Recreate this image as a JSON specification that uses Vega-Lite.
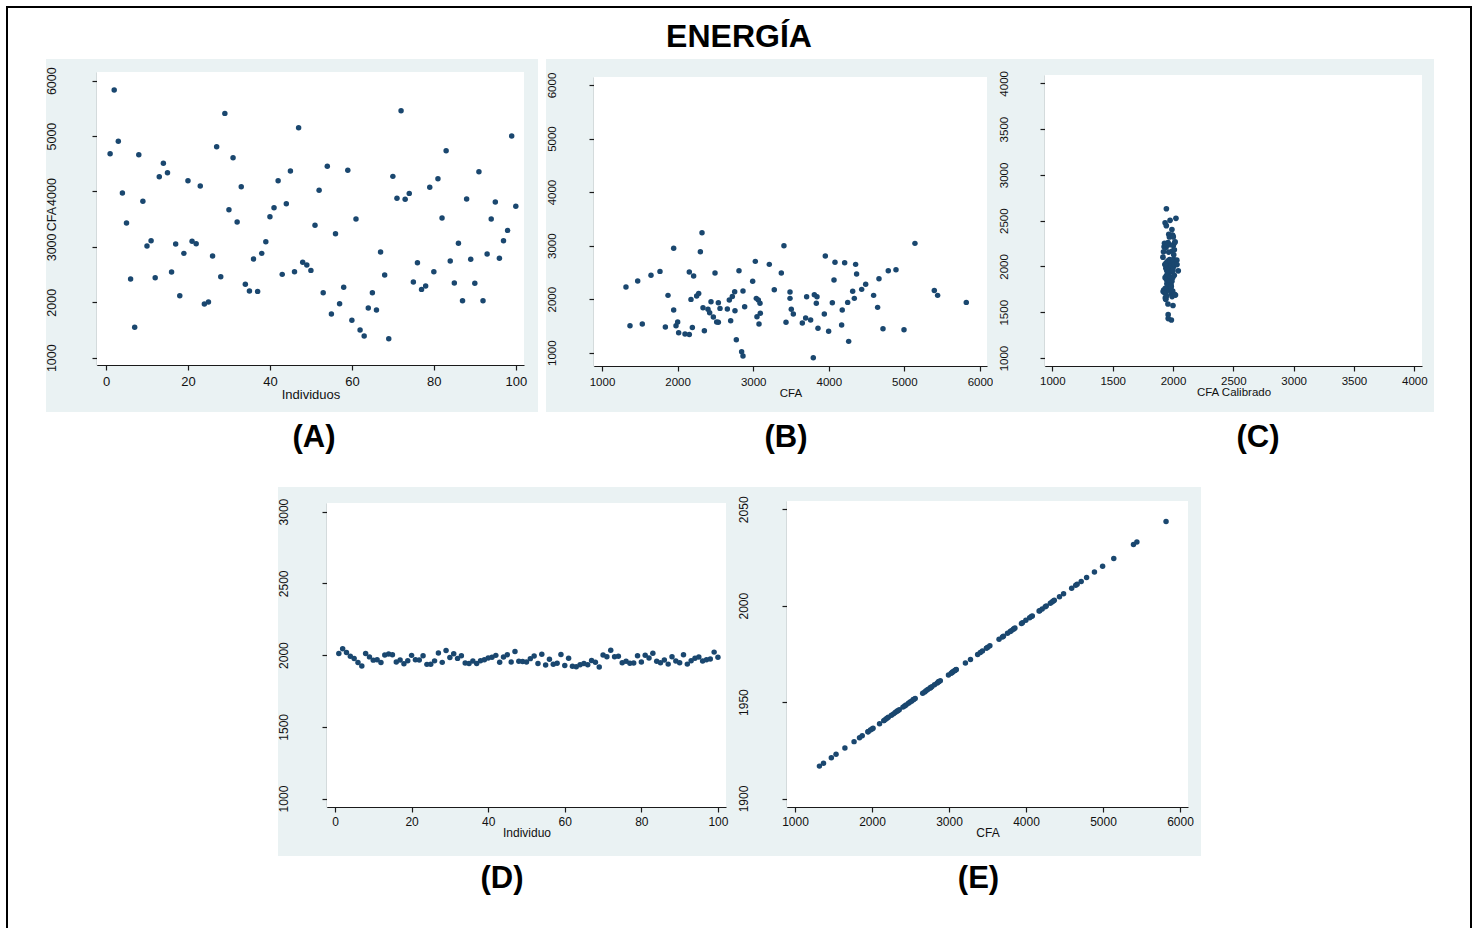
{
  "$schema": "https://vega.github.io/schema/vega-lite/v6.json",
  "background": "white",
  "padding": {"left": 6, "top": 6, "right": 0, "bottom": 0},
  "config": {
    "view": {"stroke": null},
    "font": "Liberation Sans",
    "numberFormat": "d",
    "title": {"font": "Liberation Sans", "fontWeight": "bold", "color": "#000", "baseline": "alphabetic"},
    "axis": {
      "domainColor": "#1a1a1a", "tickColor": "#1a1a1a", "domainWidth": 1.2, "tickWidth": 1.2, "tickSize": 5,
      "labelColor": "#111", "titleColor": "#111", "labelFont": "Liberation Sans", "titleFont": "Liberation Sans",
      "titleFontWeight": "normal", "gridColor": "#eaf2f3", "gridWidth": 1.3, "zindex": 1,
      "labelFlush": false, "labelOverlap": false
    },
    "axisX": {"grid": false, "labelAngle": 0, "titlePadding": 0},
    "axisY": {"grid": true, "labelAngle": -90, "labelAlign": "center", "labelBaseline": "alphabetic"}
  },
  "datasets": {
    "ind": [
      {"i":1,"cfa":4682,"cal":2011.6},{"i":2,"cfa":5832,"cal":2044.0},{"i":3,"cfa":4905,"cal":2017.9},{"i":4,"cfa":3972,"cal":1991.6},{"i":5,"cfa":3431,"cal":1976.4},
      {"i":6,"cfa":2420,"cal":1947.9},{"i":7,"cfa":1548,"cal":1923.3},{"i":8,"cfa":4664,"cal":2011.1},{"i":9,"cfa":3822,"cal":1987.4},{"i":10,"cfa":3016,"cal":1964.7},
      {"i":11,"cfa":3112,"cal":1967.4},{"i":12,"cfa":2444,"cal":1948.6},{"i":13,"cfa":4267,"cal":1999.9},{"i":14,"cfa":4508,"cal":2006.7},{"i":15,"cfa":4339,"cal":2002.0},
      {"i":16,"cfa":2546,"cal":1951.5},{"i":17,"cfa":3052,"cal":1965.7},{"i":18,"cfa":2119,"cal":1939.4},{"i":19,"cfa":2883,"cal":1961.0},{"i":20,"cfa":4195,"cal":1997.9},
      {"i":21,"cfa":3100,"cal":1967.1},{"i":22,"cfa":3058,"cal":1965.9},{"i":23,"cfa":4099,"cal":1995.2},{"i":24,"cfa":1969,"cal":1935.2},{"i":25,"cfa":2005,"cal":1936.2},
      {"i":26,"cfa":2835,"cal":1959.6},{"i":27,"cfa":4809,"cal":2015.2},{"i":28,"cfa":2462,"cal":1949.1},{"i":29,"cfa":5410,"cal":2032.1},{"i":30,"cfa":3672,"cal":1983.2},
      {"i":31,"cfa":4610,"cal":2009.6},{"i":32,"cfa":3449,"cal":1976.9},{"i":33,"cfa":4087,"cal":1994.9},{"i":34,"cfa":2324,"cal":1945.2},{"i":35,"cfa":2203,"cal":1941.8},
      {"i":36,"cfa":2781,"cal":1958.1},{"i":37,"cfa":2197,"cal":1941.6},{"i":38,"cfa":2883,"cal":1961.0},{"i":39,"cfa":3094,"cal":1966.9},{"i":40,"cfa":3545,"cal":1979.6},
      {"i":41,"cfa":3708,"cal":1984.2},{"i":42,"cfa":4195,"cal":1997.9},{"i":43,"cfa":2504,"cal":1950.3},{"i":44,"cfa":3780,"cal":1986.2},{"i":45,"cfa":4370,"cal":2002.8},
      {"i":46,"cfa":2552,"cal":1951.6},{"i":47,"cfa":5152,"cal":2024.9},{"i":48,"cfa":2721,"cal":1956.4},{"i":49,"cfa":2673,"cal":1955.0},{"i":50,"cfa":2576,"cal":1952.3},
      {"i":51,"cfa":3389,"cal":1975.2},{"i":52,"cfa":4021,"cal":1993.0},{"i":53,"cfa":2173,"cal":1941.0},{"i":54,"cfa":4454,"cal":2005.2},{"i":55,"cfa":1788,"cal":1930.1},
      {"i":56,"cfa":3238,"cal":1971.0},{"i":57,"cfa":1975,"cal":1935.4},{"i":58,"cfa":2270,"cal":1943.7},{"i":59,"cfa":4382,"cal":2003.2},{"i":60,"cfa":1674,"cal":1926.9},
      {"i":61,"cfa":3503,"cal":1978.4},{"i":62,"cfa":1499,"cal":1922.0},{"i":63,"cfa":1391,"cal":1918.9},{"i":64,"cfa":1897,"cal":1933.2},{"i":65,"cfa":2173,"cal":1941.0},
      {"i":66,"cfa":1860,"cal":1932.1},{"i":67,"cfa":2907,"cal":1961.6},{"i":68,"cfa":2492,"cal":1949.9},{"i":69,"cfa":1343,"cal":1917.6},{"i":70,"cfa":4273,"cal":2000.1},
      {"i":71,"cfa":3876,"cal":1988.9},{"i":72,"cfa":5459,"cal":2033.5},{"i":73,"cfa":3858,"cal":1988.4},{"i":74,"cfa":3966,"cal":1991.5},{"i":75,"cfa":2366,"cal":1946.4},
      {"i":76,"cfa":2715,"cal":1956.2},{"i":77,"cfa":2233,"cal":1942.6},{"i":78,"cfa":2294,"cal":1944.4},{"i":79,"cfa":4075,"cal":1994.5},{"i":80,"cfa":2552,"cal":1951.6},
      {"i":81,"cfa":4231,"cal":1998.9},{"i":82,"cfa":3521,"cal":1978.9},{"i":83,"cfa":4737,"cal":2013.2},{"i":84,"cfa":2745,"cal":1957.1},{"i":85,"cfa":2348,"cal":1945.9},
      {"i":86,"cfa":3064,"cal":1966.1},{"i":87,"cfa":2029,"cal":1936.9},{"i":88,"cfa":3864,"cal":1988.6},{"i":89,"cfa":2775,"cal":1957.9},{"i":90,"cfa":2342,"cal":1945.7},
      {"i":91,"cfa":4357,"cal":2002.5},{"i":92,"cfa":2029,"cal":1936.9},{"i":93,"cfa":2871,"cal":1960.6},{"i":94,"cfa":3503,"cal":1978.4},{"i":95,"cfa":3810,"cal":1987.1},
      {"i":96,"cfa":2793,"cal":1958.4},{"i":97,"cfa":3112,"cal":1967.4},{"i":98,"cfa":3298,"cal":1972.6},{"i":99,"cfa":5001,"cal":2020.6},{"i":100,"cfa":3732,"cal":1984.9}
    ],
    "pts": [
      {"cfa":1317,"y":2227,"cal":1916.8,"yc":2101.8},{"cfa":1370,"y":1504,"cal":1918.3,"yc":1725.6},{"cfa":1472,"y":2339,"cal":1921.2,"yc":2160.1},{"cfa":1533,"y":1536,"cal":1922.9,"yc":1742.3},
      {"cfa":1648,"y":2445,"cal":1926.2,"yc":2215.2},{"cfa":1767,"y":2519,"cal":1929.5,"yc":2253.7},{"cfa":1838,"y":1479,"cal":1931.5,"yc":1712.6},{"cfa":1873,"y":2071,"cal":1932.5,"yc":2020.6},
      {"cfa":1948,"y":2949,"cal":1934.6,"yc":2477.5},{"cfa":1948,"y":1797,"cal":1934.6,"yc":1878.1},{"cfa":1979,"y":1504,"cal":1935.5,"yc":1725.6},{"cfa":2001,"y":1573,"cal":1936.1,"yc":1761.5},
      {"cfa":2014,"y":1374,"cal":1936.5,"yc":1658.0},{"cfa":2098,"y":1349,"cal":1938.8,"yc":1645.0},{"cfa":2155,"y":1342,"cal":1940.4,"yc":1641.3},{"cfa":2155,"y":2507,"cal":1940.4,"yc":2247.5},
      {"cfa":2177,"y":1996,"cal":1941.1,"yc":1981.6},{"cfa":2195,"y":1473,"cal":1941.6,"yc":1709.5},{"cfa":2212,"y":2432,"cal":1942.1,"yc":2208.5},{"cfa":2252,"y":2059,"cal":1943.2,"yc":2014.4},
      {"cfa":2279,"y":2108,"cal":1943.9,"yc":2039.9},{"cfa":2301,"y":2887,"cal":1944.6,"yc":2445.2},{"cfa":2323,"y":3242,"cal":1945.2,"yc":2629.9},{"cfa":2336,"y":1841,"cal":1945.5,"yc":1901.0},
      {"cfa":2354,"y":1411,"cal":1946.1,"yc":1677.2},{"cfa":2402,"y":1810,"cal":1947.4,"yc":1884.8},{"cfa":2424,"y":1747,"cal":1948.0,"yc":1852.1},{"cfa":2442,"y":1953,"cal":1948.5,"yc":1959.2},
      {"cfa":2473,"y":1666,"cal":1949.4,"yc":1809.9},{"cfa":2495,"y":2488,"cal":1950.0,"yc":2237.6},{"cfa":2517,"y":1573,"cal":1950.6,"yc":1761.5},{"cfa":2539,"y":1567,"cal":1951.3,"yc":1758.4},
      {"cfa":2539,"y":1934,"cal":1951.3,"yc":1949.3},{"cfa":2561,"y":1828,"cal":1951.9,"yc":1894.2},{"cfa":2658,"y":1816,"cal":1954.6,"yc":1888.0},{"cfa":2684,"y":1984,"cal":1955.3,"yc":1975.4},
      {"cfa":2702,"y":1598,"cal":1955.9,"yc":1774.5},{"cfa":2724,"y":2052,"cal":1956.5,"yc":2010.7},{"cfa":2755,"y":2140,"cal":1957.3,"yc":2056.5},{"cfa":2759,"y":1785,"cal":1957.5,"yc":1871.8},
      {"cfa":2777,"y":1243,"cal":1958.0,"yc":1589.8},{"cfa":2812,"y":2532,"cal":1959.0,"yc":2260.5},{"cfa":2847,"y":1019,"cal":1959.9,"yc":1473.3},{"cfa":2865,"y":938,"cal":1960.5,"yc":1431.1},
      {"cfa":2865,"y":2152,"cal":1960.5,"yc":2062.8},{"cfa":2887,"y":1859,"cal":1961.1,"yc":1910.3},{"cfa":2993,"y":2333,"cal":1964.1,"yc":2156.9},{"cfa":3028,"y":2706,"cal":1965.0,"yc":2351.0},
      {"cfa":3041,"y":2015,"cal":1965.4,"yc":1991.5},{"cfa":3050,"y":1673,"cal":1965.7,"yc":1813.5},{"cfa":3068,"y":1984,"cal":1966.2,"yc":1975.4},{"cfa":3077,"y":1536,"cal":1966.4,"yc":1742.3},
      {"cfa":3090,"y":1922,"cal":1966.8,"yc":1943.1},{"cfa":3094,"y":1735,"cal":1966.9,"yc":1845.8},{"cfa":3213,"y":2650,"cal":1970.3,"yc":2321.9},{"cfa":3279,"y":2177,"cal":1972.1,"yc":2075.8},
      {"cfa":3372,"y":2488,"cal":1974.7,"yc":2237.6},{"cfa":3407,"y":2999,"cal":1975.7,"yc":2503.5},{"cfa":3434,"y":1567,"cal":1976.5,"yc":1758.4},{"cfa":3487,"y":2133,"cal":1978.0,"yc":2052.9},
      {"cfa":3487,"y":2015,"cal":1978.0,"yc":1991.5},{"cfa":3504,"y":1810,"cal":1978.5,"yc":1884.8},{"cfa":3531,"y":1722,"cal":1979.2,"yc":1839.0},{"cfa":3650,"y":1554,"cal":1982.6,"yc":1751.6},
      {"cfa":3694,"y":1648,"cal":1983.8,"yc":1800.5},{"cfa":3707,"y":2046,"cal":1984.2,"yc":2007.6},{"cfa":3760,"y":1610,"cal":1985.7,"yc":1780.8},{"cfa":3795,"y":907,"cal":1986.6,"yc":1415.0},
      {"cfa":3809,"y":2083,"cal":1987.0,"yc":2026.9},{"cfa":3835,"y":1922,"cal":1987.8,"yc":1943.1},{"cfa":3844,"y":2046,"cal":1988.0,"yc":2007.6},{"cfa":3857,"y":1455,"cal":1988.4,"yc":1700.1},
      {"cfa":3941,"y":1722,"cal":1990.8,"yc":1839.0},{"cfa":3954,"y":2806,"cal":1991.1,"yc":2403.1},{"cfa":3998,"y":1399,"cal":1992.4,"yc":1671.0},{"cfa":4047,"y":1934,"cal":1993.7,"yc":1949.3},
      {"cfa":4069,"y":2357,"cal":1994.4,"yc":2169.4},{"cfa":4082,"y":2688,"cal":1994.7,"yc":2341.7},{"cfa":4170,"y":1517,"cal":1997.2,"yc":1732.4},{"cfa":4178,"y":1797,"cal":1997.4,"yc":1878.1},
      {"cfa":4210,"y":2681,"cal":1998.3,"yc":2338.0},{"cfa":4250,"y":1940,"cal":1999.5,"yc":1952.5},{"cfa":4263,"y":1212,"cal":1999.8,"yc":1573.7},{"cfa":4316,"y":2146,"cal":2001.3,"yc":2059.6},
      {"cfa":4338,"y":2015,"cal":2001.9,"yc":1991.5},{"cfa":4355,"y":2650,"cal":2002.4,"yc":2321.9},{"cfa":4368,"y":2470,"cal":2002.8,"yc":2228.2},{"cfa":4435,"y":2183,"cal":2004.7,"yc":2078.9},
      {"cfa":4488,"y":2277,"cal":2006.2,"yc":2127.8},{"cfa":4593,"y":2071,"cal":2009.1,"yc":2020.6},{"cfa":4646,"y":1847,"cal":2010.6,"yc":1904.1},{"cfa":4664,"y":2382,"cal":2011.1,"yc":2182.4},
      {"cfa":4717,"y":1448,"cal":2012.6,"yc":1696.5},{"cfa":4787,"y":2532,"cal":2014.6,"yc":2260.5},{"cfa":4889,"y":2551,"cal":2017.5,"yc":2270.4},{"cfa":4995,"y":1430,"cal":2020.5,"yc":1687.1},
      {"cfa":5140,"y":3042,"cal":2024.5,"yc":2525.8},{"cfa":5396,"y":2164,"cal":2031.7,"yc":2069.0},{"cfa":5440,"y":2071,"cal":2033.0,"yc":2020.6},{"cfa":5819,"y":1940,"cal":2043.7,"yc":1952.5}
    ]
  },
  "bounds": "flush",
  "spacing": 0,
  "vconcat": [
    {
      "width": 1466, "height": 2,
      "data": {"values": []},
      "mark": "point",
      "view": {"fill": "#000", "stroke": null},
      "title": {"text": "ENERGÍA", "fontSize": 32, "offset": -48, "anchor": "middle", "frame": "group"}
    },
    {
      "bounds": "full",
      "spacing": 0,
      "hconcat": [
        {"width": 2, "height": 925, "data": {"values": []}, "mark": "point", "view": {"fill": "#000", "stroke": null}},
        {
          "bounds": "full",
          "spacing": 0,
          "vconcat": [
            {"width": 1462, "height": 51, "data": {"values": []}, "mark": "point"},
            {
              "bounds": "flush",
              "spacing": 0,
              "hconcat": [
                {"width": 38, "height": 10, "data": {"values": []}, "mark": "point"},
                {
                  "width": 492, "height": 353,
                  "view": {"fill": "#eaf2f3", "stroke": null},
                  "data": {"name": "ind"},
                  "layer": [
                    {"data": {"values": [{}]}, "mark": {"type": "rect", "color": "white"},
                     "encoding": {"x": {"datum": -2.2, "type": "quantitative"}, "x2": {"datum": 102},
                                  "y": {"datum": 868, "type": "quantitative"}, "y2": {"datum": 6157}}},
                    {"mark": {"type": "circle", "size": 30, "color": "#1a476f", "opacity": 1},
                     "encoding": {
                       "x": {"field": "i", "type": "quantitative",
                             "scale": {"domain": [-2.2, 102], "range": [51, 478], "nice": false, "zero": false},
                             "axis": {"values": [0,20,40,60,80,100], "offset": -47, "labelPadding": 5, "labelFontSize": 13, "title": "Individuos", "titleFontSize": 13}},
                       "y": {"field": "cfa", "type": "quantitative",
                             "scale": {"domain": [868, 6157], "range": [306, 13], "nice": false, "zero": false},
                             "axis": {"values": [1000,2000,3000,4000,5000,6000], "offset": -51, "labelPadding": 37, "labelFontSize": 12.5,
                                      "title": "CFA", "titleFontSize": 12.5, "titleX": -42, "titleY": 159.5, "titleAngle": -90, "titleAlign": "center", "titleBaseline": "alphabetic"}}
                     }}
                  ]
                },
                {"width": 8, "height": 10, "data": {"values": []}, "mark": "point"},
                {
                  "width": 447, "height": 353,
                  "view": {"fill": "#eaf2f3", "stroke": null},
                  "data": {"name": "pts"},
                  "layer": [
                    {"data": {"values": [{}]}, "mark": {"type": "rect", "color": "white"},
                     "encoding": {"x": {"datum": 894, "type": "quantitative"}, "x2": {"datum": 6093},
                                  "y": {"datum": 752, "type": "quantitative"}, "y2": {"datum": 6149}}},
                    {"mark": {"type": "circle", "size": 30, "color": "#1a476f", "opacity": 1},
                     "encoding": {
                       "x": {"field": "cfa", "type": "quantitative",
                             "scale": {"domain": [894, 6093], "range": [48, 441], "nice": false, "zero": false},
                             "axis": {"values": [1000,2000,3000,4000,5000,6000], "offset": -46, "labelPadding": 5, "labelFontSize": 11.5, "title": "CFA", "titleFontSize": 11.5}},
                       "y": {"field": "y", "type": "quantitative",
                             "scale": {"domain": [752, 6149], "range": [307, 18], "nice": false, "zero": false},
                             "axis": {"values": [1000,2000,3000,4000,5000,6000], "offset": -48, "labelPadding": 34, "labelFontSize": 11.5, "title": null}}
                     }}
                  ]
                },
                {
                  "width": 441, "height": 353,
                  "view": {"fill": "#eaf2f3", "stroke": null},
                  "data": {"name": "pts"},
                  "layer": [
                    {"data": {"values": [{}]}, "mark": {"type": "rect", "color": "white"},
                     "encoding": {"x": {"datum": 939, "type": "quantitative"}, "x2": {"datum": 4064},
                                  "y": {"datum": 913, "type": "quantitative"}, "y2": {"datum": 4091}}},
                    {"mark": {"type": "circle", "size": 32, "color": "#1a476f", "opacity": 1},
                     "encoding": {
                       "x": {"field": "cal", "type": "quantitative",
                             "scale": {"domain": [939, 4064], "range": [52, 429], "nice": false, "zero": false},
                             "axis": {"values": [1000,1500,2000,2500,3000,3500,4000], "offset": -46, "labelPadding": 4, "labelFontSize": 11.5, "title": "CFA Calibrado", "titleFontSize": 11.5}},
                       "y": {"field": "yc", "type": "quantitative",
                             "scale": {"domain": [913, 4091], "range": [307, 16], "nice": false, "zero": false},
                             "axis": {"values": [1000,1500,2000,2500,3000,3500,4000], "offset": -52, "labelPadding": 33, "labelFontSize": 11.5, "title": null}}
                     }}
                  ]
                }
              ]
            },
            {
              "bounds": "flush",
              "spacing": 0,
              "hconcat": [
                {"width": 38, "height": 75, "data": {"values": []}, "mark": "point"},
                {"width": 492, "height": 75, "data": {"values": []}, "mark": "point",
                 "title": {"text": "(A)", "orient": "top", "fontSize": 31, "offset": -42, "anchor": "middle", "frame": "group", "dx": 22}},
                {"width": 8, "height": 75, "data": {"values": []}, "mark": "point"},
                {"width": 447, "height": 75, "data": {"values": []}, "mark": "point",
                 "title": {"text": "(B)", "orient": "top", "fontSize": 31, "offset": -42, "anchor": "middle", "frame": "group", "dx": 16.5}},
                {"width": 441, "height": 75, "data": {"values": []}, "mark": "point",
                 "title": {"text": "(C)", "orient": "top", "fontSize": 31, "offset": -42, "anchor": "middle", "frame": "group", "dx": 44.5}}
              ]
            },
            {
              "bounds": "flush",
              "spacing": 0,
              "hconcat": [
                {"width": 270, "height": 10, "data": {"values": []}, "mark": "point"},
                {
                  "width": 460, "height": 369,
                  "view": {"fill": "#eaf2f3", "stroke": null},
                  "data": {"name": "ind"},
                  "layer": [
                    {"data": {"values": [{}]}, "mark": {"type": "rect", "color": "white"},
                     "encoding": {"x": {"datum": -2.09, "type": "quantitative"}, "x2": {"datum": 102.1},
                                  "y": {"datum": 941, "type": "quantitative"}, "y2": {"datum": 3060}}},
                    {"mark": {"type": "circle", "size": 30, "color": "#1a476f", "opacity": 1},
                     "encoding": {
                       "x": {"field": "i", "type": "quantitative",
                             "scale": {"domain": [-2.09, 102.1], "range": [49, 448], "nice": false, "zero": false},
                             "axis": {"values": [0,20,40,60,80,100], "offset": -49, "labelPadding": 4, "labelFontSize": 12, "title": "Individuo", "titleFontSize": 12}},
                       "y": {"field": "cal", "type": "quantitative",
                             "scale": {"domain": [941, 3060], "range": [320, 16], "nice": false, "zero": false},
                             "axis": {"values": [1000,1500,2000,2500,3000], "offset": -49, "labelPadding": 35, "labelFontSize": 12, "title": null}}
                     }}
                  ]
                },
                {
                  "width": 463, "height": 369,
                  "view": {"fill": "#eaf2f3", "stroke": null},
                  "data": {"name": "pts"},
                  "layer": [
                    {"data": {"values": [{}]}, "mark": {"type": "rect", "color": "white"},
                     "encoding": {"x": {"datum": 896, "type": "quantitative"}, "x2": {"datum": 6104},
                                  "y": {"datum": 1895.6, "type": "quantitative"}, "y2": {"datum": 2054.3}}},
                    {"mark": {"type": "circle", "size": 30, "color": "#1a476f", "opacity": 1},
                     "encoding": {
                       "x": {"field": "cfa", "type": "quantitative",
                             "scale": {"domain": [896, 6104], "range": [49, 450], "nice": false, "zero": false},
                             "axis": {"values": [1000,2000,3000,4000,5000,6000], "offset": -49, "labelPadding": 4, "labelFontSize": 12, "title": "CFA", "titleFontSize": 12}},
                       "y": {"field": "cal", "type": "quantitative",
                             "scale": {"domain": [1895.6, 2054.3], "range": [320, 14], "nice": false, "zero": false},
                             "axis": {"values": [1900,1950,2000,2050], "offset": -49, "labelPadding": 35, "labelFontSize": 12, "title": null}}
                     }}
                  ]
                }
              ]
            },
            {
              "bounds": "flush",
              "spacing": 0,
              "hconcat": [
                {"width": 270, "height": 72, "data": {"values": []}, "mark": "point"},
                {"width": 460, "height": 72, "data": {"values": []}, "mark": "point",
                 "title": {"text": "(D)", "orient": "top", "fontSize": 31, "offset": -39, "anchor": "middle", "frame": "group", "dx": -6}},
                {"width": 463, "height": 72, "data": {"values": []}, "mark": "point",
                 "title": {"text": "(E)", "orient": "top", "fontSize": 31, "offset": -39, "anchor": "middle", "frame": "group", "dx": 9}}
              ]
            }
          ]
        },
        {"width": 2, "height": 925, "data": {"values": []}, "mark": "point", "view": {"fill": "#000", "stroke": null}}
      ]
    }
  ]
}
